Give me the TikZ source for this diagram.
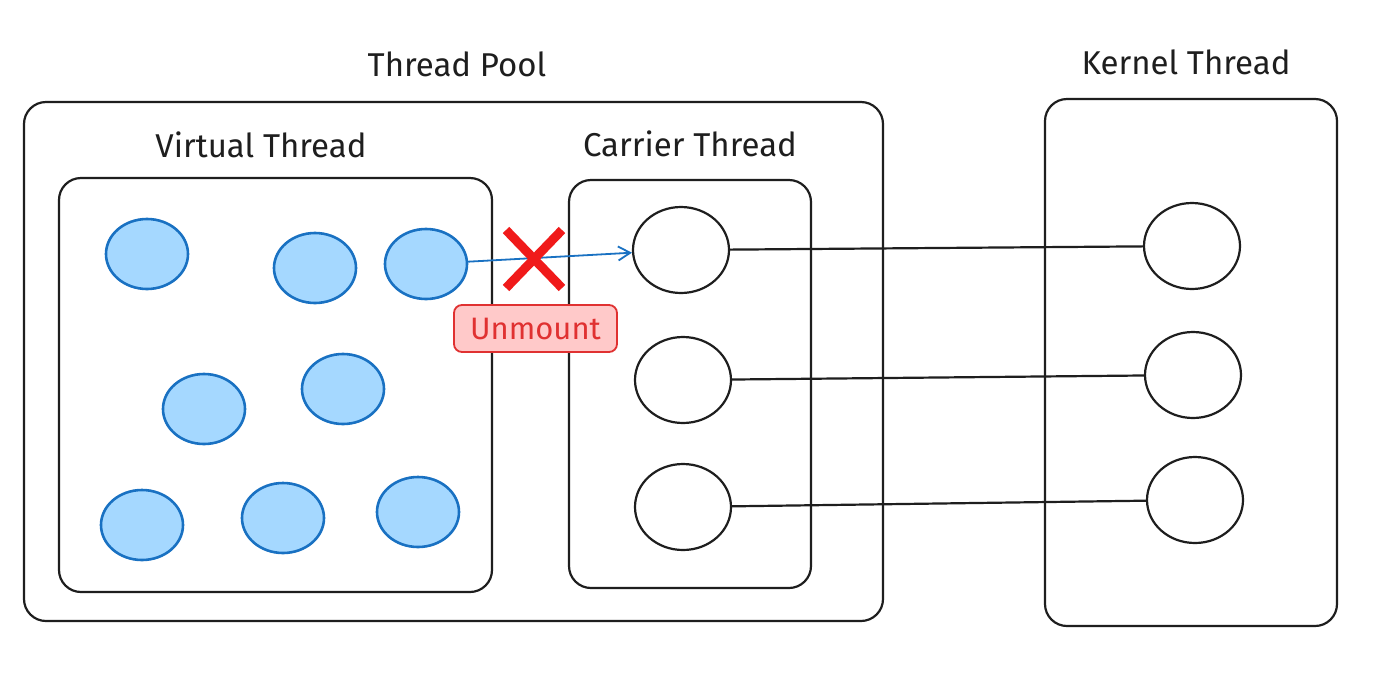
\documentclass[tikz,border=0pt]{standalone}
\usepackage{fontspec}
\setmainfont{Fira Sans}
\usetikzlibrary{arrows.meta,shapes.geometric}
\definecolor{vfill}{HTML}{A5D8FF}
\definecolor{vline}{HTML}{1971C2}
\definecolor{xred}{HTML}{F01A1A}
\definecolor{lfill}{HTML}{FFC9C9}
\definecolor{lline}{HTML}{E03131}
\definecolor{ink}{HTML}{1E1E1E}
\tikzset{
  box/.style={draw=ink,line width=2.2pt,rounded corners=22pt},
  title/.style={font=\fontsize{33}{35}\selectfont,text=ink},
  vt/.style={ellipse,draw=vline,fill=vfill,line width=2.6pt,minimum width=82pt,minimum height=70pt,inner sep=0pt},
  ct/.style={ellipse,draw=ink,fill=white,line width=2.2pt,minimum width=96pt,minimum height=86pt,inner sep=0pt},
  link/.style={draw=ink,line width=2.2pt},
}
\begin{document}
\begin{tikzpicture}[x=1pt,y=-1pt]
\useasboundingbox[fill=white] (0,0) rectangle (1374,673);
% boxes
\draw[box] (24,102) rectangle (883,621);
\draw[box] (59,178) rectangle (492,592);
\draw[box] (569,180) rectangle (811,588);
\draw[box] (1045,99) rectangle (1337,626);
% titles
\node[title] (tp) at (457,64) {Thread Pool};
\node[title] (vtl) at (261,145) {Virtual Thread};
\node[title] (ctl) at (690,144) {Carrier Thread};
\node[title] (ktl) at (1186,62) {Kernel Thread};
% virtual threads
\node[vt] (v1) at (147,254) {};
\node[vt] (v2) at (315,268) {};
\node[vt] (v3) at (426,264) {};
\node[vt] (v4) at (204,409) {};
\node[vt] (v5) at (343,389) {};
\node[vt] (v6) at (142,525) {};
\node[vt] (v7) at (283,518) {};
\node[vt] (v8) at (418,512) {};
% carrier threads
\node[ct] (c1) at (681,250) {};
\node[ct] (c2) at (683,380) {};
\node[ct] (c3) at (683,507) {};
% kernel threads
\node[ct] (k1) at (1192,246) {};
\node[ct] (k2) at (1193,375) {};
\node[ct] (k3) at (1195,500) {};
% links
\draw[link] (c1) -- (k1);
\draw[link] (c2) -- (k2);
\draw[link] (c3) -- (k3);
% mount arrow
\draw[vline,line width=1.8pt,-{Straight Barb[length=12pt,width=14pt,line width=1.8pt]}] (v3) -- (c1);
% red cross
\coordinate (xa) at (506,230);
\coordinate (xb) at (562,288);
\coordinate (xc) at (562,230);
\coordinate (xd) at (506,288);
\draw[xred,line width=9pt] (xa) -- (xb);
\draw[xred,line width=9pt] (xc) -- (xd);
% unmount label
\node[draw=lline,fill=lfill,line width=1.8pt,rounded corners=8pt,minimum width=163pt,minimum height=47pt,text=lline,font=\fontsize{31}{33}\selectfont] (um) at (535.5,328.5) {Unmount};
\end{tikzpicture}
\end{document}
